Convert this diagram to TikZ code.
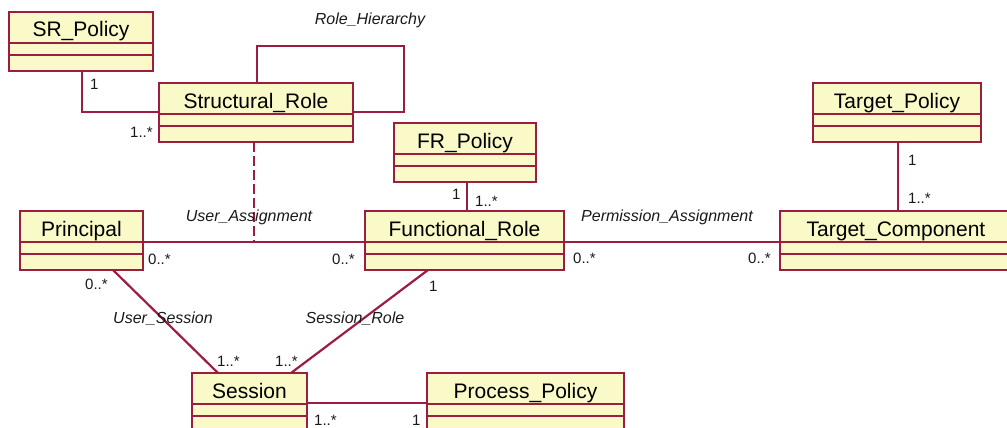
\documentclass[tikz,border=0pt]{standalone}
\usepackage{fontspec}
\setmainfont{Liberation Sans}
\usetikzlibrary{calc}

\definecolor{umlred}{RGB}{155,30,65}
\definecolor{umlyellow}{RGB}{250,249,200}
\definecolor{umltext}{RGB}{25,25,25}

\tikzset{
  classbox/.style={draw=umlred,fill=umlyellow,line width=2.4pt,anchor=north west,inner sep=0pt,outer sep=0pt,minimum height=59pt},
  classtitle/.style={anchor=base,inner sep=0pt,font=\fontsize{21}{25}\selectfont},
  classdiv/.style={draw=umlred,line width=1.8pt},
  assoc/.style={draw=umlred,line width=1.6pt},
  mult/.style={anchor=base west,inner sep=0pt,text=umltext,font=\fontsize{15}{18}\selectfont},
  assocname/.style={anchor=base,inner sep=0pt,text=umltext,font=\fontsize{16}{19}\selectfont\itshape}
}

% one class box: name, top left corner, width, title
\newcommand{\umlclass}[4]{%
\node[classbox,minimum width=#3] (#1) at (#2) {};
\node[classtitle] (#1-title) at ([yshift=-25pt]#1.north) {#4};
\draw[classdiv] ([yshift=-31pt]#1.north west) -- ([yshift=-31pt]#1.north east);
\draw[classdiv] ([yshift=-43pt]#1.north west) -- ([yshift=-43pt]#1.north east);
}

\begin{document}
\begin{tikzpicture}[x=1pt,y=-1pt]
\useasboundingbox (0,0) rectangle (1007,428);
\clip (0,0) rectangle (1007,428);

% classes
\umlclass{srpol}{9,12}{144pt}{SR\_Policy}
\umlclass{srole}{159,83}{194pt}{Structural\_Role}
\umlclass{frpol}{394,123}{142pt}{FR\_Policy}
\umlclass{tpol}{813,83}{168pt}{Target\_Policy}
\umlclass{princ}{20,211}{123pt}{Principal}
\umlclass{frole}{365,211}{199pt}{Functional\_Role}
\umlclass{tcomp}{780,211}{232pt}{Target\_Component}
\umlclass{sess}{192,373}{115pt}{Session}
\umlclass{ppol}{427,373}{197pt}{Process\_Policy}

% associations
\coordinate (rh) at (404,46);
\coordinate (ua) at (254,242);
\draw[assoc] ([xshift=73pt]srpol.south west) |- ([yshift=-29pt]srole.north west);
\draw[assoc] ([xshift=98pt]srole.north west) |- (rh) |- ([yshift=-29pt]srole.north east);
\draw[assoc] ([yshift=-31pt]princ.north east) -- ([yshift=-31pt]frole.north west);
\draw[assoc,dash pattern=on 10pt off 4pt] ([xshift=95pt]srole.south west) -- (ua);
\draw[assoc] ([yshift=-31pt]frole.north east) -- ([yshift=-31pt]tcomp.north west);
\draw[assoc] ([xshift=73pt]frpol.south west) -- ([xshift=102pt]frole.north west);
\draw[assoc] ([xshift=85pt]tpol.south west) -- ([xshift=118pt]tcomp.north west);
\draw[assoc,line width=2.2pt] ([xshift=93pt]princ.south west) -- ([xshift=26pt]sess.north west);
\draw[assoc,line width=2.2pt] ([xshift=99pt]sess.north west) -- ([xshift=63pt]frole.south west);
\draw[assoc] ([yshift=-30pt]sess.north east) -- ([yshift=-30pt]ppol.north west);

% association names
\node[assocname] (rhname) at (370,25) {Role\_Hierarchy};
\node[assocname] (uaname) at (249,221) {User\_Assignment};
\node[assocname] (usname) at (163,323) {User\_Session};
\node[assocname] (srname) at (355,323) {Session\_Role};
\node[assocname] (paname) at (667,221) {Permission\_Assignment};

% multiplicities
\node[mult] (m1) at (90,89) {1};
\node[mult] (m2) at (130,137) {1..*};
\node[mult] (m3) at (148,264) {0..*};
\node[mult] (m4) at (332,264) {0..*};
\node[mult] (m5) at (85,289) {0..*};
\node[mult] (m6) at (217,366) {1..*};
\node[mult] (m7) at (275,366) {1..*};
\node[mult] (m8) at (314,425) {1..*};
\node[mult] (m9) at (412,425) {1};
\node[mult] (m10) at (429,291) {1};
\node[mult] (m11) at (452,199) {1};
\node[mult] (m12) at (475,206) {1..*};
\node[mult] (m13) at (573,263) {0..*};
\node[mult] (m14) at (748,263) {0..*};
\node[mult] (m15) at (908,165) {1};
\node[mult] (m16) at (908,203) {1..*};
\end{tikzpicture}
\end{document}
